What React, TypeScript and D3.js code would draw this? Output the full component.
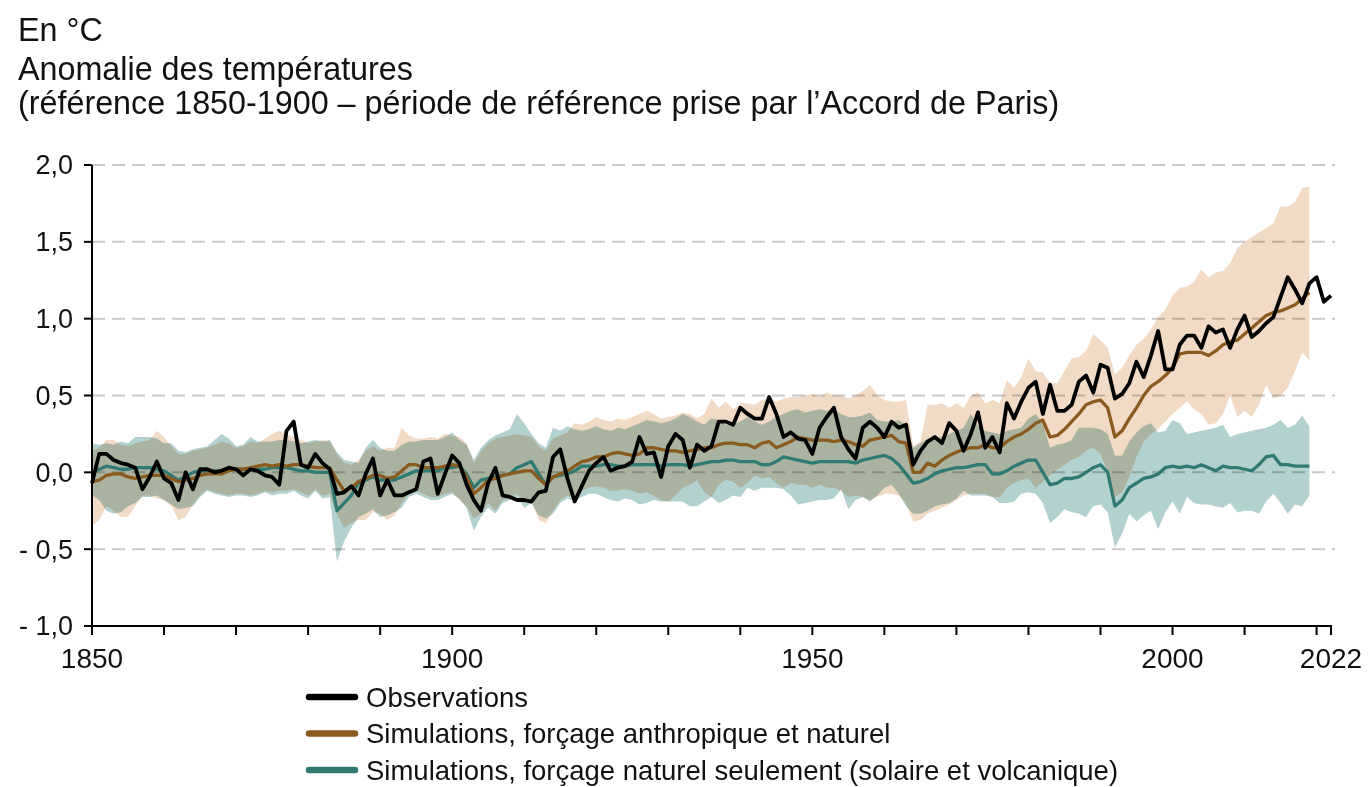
import React from "react";
import * as d3 from "d3";

const FONT = '"Liberation Sans", Arial, Helvetica, sans-serif';

const FIRST_YEAR = 1850;

// observed anomaly, 1850-2022 (°C vs 1850-1900)
const observations = [
  -0.07, 0.12, 0.12, 0.08, 0.06, 0.05, 0.03, -0.11, -0.03, 0.07,
  -0.04, -0.07, -0.18, 0.0, -0.11, 0.02, 0.02, 0.0, 0.01, 0.03,
  0.02, -0.02, 0.02, 0.01, -0.02, -0.03, -0.08, 0.27, 0.33, 0.05,
  0.03, 0.12, 0.06, 0.02, -0.14, -0.13, -0.09, -0.15, -0.01, 0.09,
  -0.15, -0.05, -0.15, -0.15, -0.13, -0.11, 0.07, 0.09, -0.14, -0.01,
  0.11, 0.06, -0.08, -0.18, -0.25, -0.07, 0.03, -0.15, -0.16, -0.18,
  -0.18, -0.19, -0.13, -0.12, 0.1, 0.15, -0.04, -0.19, -0.09, 0.01,
  0.06, 0.1, 0.01, 0.03, 0.04, 0.07, 0.23, 0.12, 0.13, -0.03,
  0.17, 0.25, 0.21, 0.03, 0.18, 0.14, 0.17, 0.33, 0.33, 0.31,
  0.42, 0.38, 0.35, 0.35, 0.49, 0.38, 0.23, 0.26, 0.22, 0.21,
  0.12, 0.29, 0.36, 0.42, 0.23, 0.15, 0.09, 0.29, 0.33, 0.29,
  0.23, 0.33, 0.29, 0.31, 0.05, 0.14, 0.2, 0.23, 0.19, 0.32,
  0.27, 0.14, 0.25, 0.39, 0.16, 0.23, 0.13, 0.45, 0.35, 0.46,
  0.55, 0.59, 0.38, 0.57, 0.4, 0.4, 0.44, 0.59, 0.63, 0.52,
  0.7, 0.68, 0.48, 0.51, 0.58, 0.72, 0.62, 0.76, 0.92, 0.67,
  0.67, 0.83, 0.89, 0.89, 0.81, 0.95, 0.91, 0.93, 0.81, 0.93,
  1.02, 0.88, 0.92, 0.97, 1.01, 1.14, 1.27, 1.19, 1.1, 1.23,
  1.27, 1.11, 1.15,
];

// simulations, human + natural forcing, 1850-2019
const anthroMean = [
  -0.06, -0.05, -0.02, -0.01, -0.01, -0.03, -0.04, -0.03, -0.02, -0.02,
  -0.02, -0.04, -0.06, -0.05, -0.04, -0.02, -0.01, -0.01, -0.01, 0.01,
  0.02, 0.02, 0.03, 0.04, 0.05, 0.04, 0.05, 0.04, 0.05, 0.05,
  0.04, 0.03, 0.03, 0.03, -0.05, -0.12, -0.1, -0.06, -0.04, -0.02,
  -0.02, -0.04, -0.03, 0.01, 0.05, 0.05, 0.03, 0.03, 0.03, 0.04,
  0.05, 0.04, -0.03, -0.14, -0.1, -0.05, -0.04, -0.02, -0.01, 0.0,
  0.01, 0.01, -0.04, -0.08, -0.03, -0.01, 0.01, 0.04, 0.07, 0.08,
  0.1, 0.1, 0.12, 0.13, 0.12, 0.11, 0.12, 0.16, 0.16, 0.15,
  0.14, 0.14, 0.13, 0.14, 0.15, 0.16, 0.16, 0.18, 0.19, 0.19,
  0.18, 0.18, 0.16, 0.19, 0.2, 0.16, 0.18, 0.2, 0.23, 0.22,
  0.21, 0.21, 0.21, 0.2, 0.21, 0.2, 0.18, 0.17, 0.21, 0.22,
  0.23, 0.24, 0.2, 0.19, 0.0, 0.0, 0.06, 0.04, 0.08, 0.11,
  0.13, 0.15, 0.16, 0.16, 0.18, 0.16, 0.16, 0.2, 0.23, 0.25,
  0.28, 0.32, 0.34, 0.23, 0.24, 0.28, 0.33, 0.38, 0.44, 0.46,
  0.47, 0.42, 0.23, 0.27, 0.35, 0.42, 0.5, 0.56, 0.59, 0.63,
  0.68, 0.77, 0.78, 0.78, 0.78, 0.76, 0.79, 0.83, 0.85, 0.86,
  0.9, 0.94, 0.98, 1.02, 1.04, 1.05, 1.07, 1.09, 1.13, 1.17,
];

const anthroHigh = [
  0.14, 0.16, 0.21, 0.21, 0.18, 0.17, 0.19, 0.2, 0.21, 0.27,
  0.23, 0.17, 0.12, 0.12, 0.14, 0.15, 0.16, 0.18, 0.2, 0.19,
  0.16, 0.17, 0.2, 0.19, 0.22, 0.25, 0.27, 0.25, 0.23, 0.21,
  0.19, 0.2, 0.21, 0.2, 0.12, 0.06, 0.05, 0.08, 0.14, 0.17,
  0.14, 0.16, 0.16, 0.29, 0.24, 0.22, 0.22, 0.23, 0.22, 0.25,
  0.24, 0.23, 0.19, 0.06, 0.14, 0.19, 0.22, 0.23, 0.24, 0.25,
  0.24, 0.23, 0.17, 0.14, 0.22, 0.24, 0.26, 0.32, 0.31, 0.33,
  0.36, 0.34, 0.33, 0.35, 0.34, 0.36, 0.38, 0.4, 0.38, 0.35,
  0.36, 0.37, 0.39, 0.38, 0.35, 0.38, 0.48, 0.42, 0.46, 0.41,
  0.45, 0.45, 0.44, 0.47, 0.48, 0.46, 0.48, 0.49, 0.49, 0.5,
  0.51, 0.49, 0.52, 0.5, 0.5, 0.48, 0.5, 0.53, 0.57, 0.5,
  0.47, 0.46, 0.46, 0.47, 0.17, 0.2, 0.44, 0.44, 0.45, 0.42,
  0.45, 0.42, 0.5, 0.52, 0.45, 0.47, 0.45, 0.6, 0.55, 0.62,
  0.74, 0.66, 0.65, 0.58, 0.58, 0.66, 0.74, 0.75, 0.79, 0.9,
  0.86, 0.81, 0.64, 0.68, 0.76, 0.83, 0.87, 0.93, 1.01, 1.06,
  1.15, 1.2, 1.21, 1.24, 1.32, 1.27, 1.3, 1.31, 1.36, 1.46,
  1.5, 1.53, 1.56, 1.59, 1.62, 1.73, 1.73, 1.76, 1.85, 1.86,
];

const anthroLow = [
  -0.35, -0.31, -0.22, -0.25, -0.29, -0.29, -0.22, -0.15, -0.15, -0.17,
  -0.18, -0.22, -0.31, -0.29, -0.21, -0.15, -0.11, -0.13, -0.14, -0.15,
  -0.14, -0.14, -0.15, -0.14, -0.12, -0.13, -0.12, -0.12, -0.11, -0.13,
  -0.15, -0.11, -0.15, -0.14, -0.27, -0.36, -0.33, -0.31, -0.31, -0.26,
  -0.27, -0.31, -0.28, -0.2, -0.14, -0.12, -0.14, -0.16, -0.16, -0.14,
  -0.13, -0.18, -0.22, -0.3, -0.27, -0.2, -0.25, -0.18, -0.17, -0.14,
  -0.2, -0.18, -0.31, -0.33, -0.25, -0.18, -0.15, -0.16, -0.12, -0.1,
  -0.09, -0.1, -0.12, -0.12, -0.11, -0.12, -0.14, -0.13, -0.15, -0.18,
  -0.19, -0.15, -0.1, -0.08, -0.05, -0.13, -0.16, -0.08, -0.05, -0.06,
  -0.1, -0.07, -0.02, -0.04, -0.03, -0.07, -0.1, -0.07, -0.08, -0.08,
  -0.1, -0.08, -0.1, -0.1, -0.12, -0.16, -0.15, -0.16, -0.18, -0.16,
  -0.14, -0.14, -0.15, -0.2, -0.32, -0.31, -0.27, -0.25, -0.23, -0.21,
  -0.18, -0.15, -0.14, -0.14, -0.14, -0.16, -0.16, -0.1, -0.07, -0.05,
  -0.04, -0.1, -0.06, -0.02, 0.02, 0.05, 0.08, 0.1, 0.14, 0.16,
  0.12, 0.0, -0.16, -0.13, -0.03, 0.1, 0.2, 0.25, 0.28, 0.33,
  0.38, 0.42, 0.46, 0.41, 0.38, 0.31, 0.32, 0.38, 0.5, 0.36,
  0.4, 0.36, 0.44, 0.57, 0.48, 0.5, 0.55, 0.66, 0.78, 0.73,
];

// simulations, natural forcing only, 1850-2019
const naturalMean = [
  0.0, 0.02, 0.04, 0.03, 0.02, 0.02, 0.03, 0.03, 0.03, 0.02,
  0.01, -0.02, -0.05, -0.03, 0.0, 0.01, 0.01, 0.01, 0.01, 0.02,
  0.02, 0.02, 0.02, 0.02, 0.02, 0.03, 0.03, 0.03, 0.02, 0.01,
  0.01, 0.0, 0.0, 0.0, -0.25, -0.2, -0.15, -0.07, -0.05, -0.03,
  -0.05, -0.05, -0.05, -0.03, -0.01, 0.01, 0.01, 0.01, 0.01, 0.03,
  0.03, 0.04, -0.01, -0.1, -0.05, -0.04, -0.03, -0.02, -0.01, 0.03,
  0.05, 0.07, -0.01, -0.08, -0.03, -0.02, -0.01, 0.01, 0.04, 0.04,
  0.04, 0.05, 0.05, 0.04, 0.04, 0.05, 0.05, 0.05, 0.05, 0.04,
  0.05, 0.05, 0.05, 0.04, 0.05, 0.06, 0.07, 0.07, 0.08, 0.08,
  0.07, 0.07, 0.07, 0.05, 0.05, 0.07, 0.1, 0.09, 0.08, 0.07,
  0.06, 0.07, 0.07, 0.07, 0.07, 0.07, 0.06, 0.08, 0.09, 0.1,
  0.11, 0.09, 0.05, -0.01, -0.07, -0.06, -0.04, -0.01, 0.01, 0.02,
  0.03, 0.03, 0.04, 0.05, 0.05, -0.01, -0.01, 0.01, 0.04, 0.06,
  0.08, 0.08, 0.0, -0.08, -0.07, -0.04, -0.04, -0.03, 0.0, 0.03,
  0.05, 0.0, -0.22, -0.18, -0.1, -0.07, -0.04, -0.03, -0.01, 0.03,
  0.04, 0.03, 0.04, 0.03, 0.05, 0.03, 0.01, 0.04, 0.03, 0.03,
  0.02, 0.01, 0.05, 0.1, 0.11, 0.05, 0.05, 0.04, 0.04, 0.04,
];

const naturalHigh = [
  0.19, 0.18, 0.19, 0.18, 0.2, 0.19, 0.23, 0.23, 0.23, 0.22,
  0.19, 0.19, 0.14, 0.13, 0.15, 0.16, 0.17, 0.21, 0.25, 0.22,
  0.17, 0.18, 0.23, 0.2, 0.2, 0.2, 0.21, 0.21, 0.2, 0.19,
  0.2, 0.21, 0.2, 0.21, 0.13, 0.08, 0.07, 0.06, 0.16, 0.21,
  0.16, 0.14, 0.14, 0.18, 0.2, 0.2, 0.21, 0.21, 0.21, 0.23,
  0.26, 0.21, 0.18, 0.08, 0.16, 0.21, 0.24, 0.26, 0.28, 0.38,
  0.32, 0.25, 0.19, 0.16, 0.29, 0.27, 0.3, 0.28, 0.27, 0.28,
  0.3, 0.28, 0.27, 0.29, 0.28, 0.3, 0.32, 0.34, 0.33, 0.32,
  0.33, 0.35, 0.38, 0.36, 0.33, 0.31, 0.35, 0.34, 0.31, 0.32,
  0.33, 0.36, 0.33, 0.31, 0.33, 0.36, 0.38, 0.4, 0.41, 0.39,
  0.4, 0.41, 0.4, 0.41, 0.38, 0.36, 0.36, 0.37, 0.39, 0.34,
  0.33, 0.33, 0.34, 0.31, 0.16, 0.19, 0.22, 0.22, 0.23, 0.25,
  0.27, 0.29, 0.38, 0.3, 0.27, 0.26, 0.25, 0.27, 0.28, 0.29,
  0.35, 0.38, 0.32, 0.16, 0.18, 0.19, 0.21, 0.29, 0.29, 0.29,
  0.28, 0.25, 0.11, 0.11, 0.2, 0.26, 0.3, 0.32, 0.26, 0.27,
  0.34, 0.32, 0.25, 0.26, 0.27, 0.28, 0.29, 0.31, 0.23, 0.25,
  0.26, 0.27, 0.28, 0.29, 0.31, 0.34, 0.29, 0.31, 0.37, 0.3,
];

const naturalLow = [
  -0.15, -0.18, -0.25, -0.27, -0.26, -0.22, -0.2, -0.16, -0.16, -0.15,
  -0.18, -0.21, -0.24, -0.23, -0.22, -0.16, -0.12, -0.14, -0.15, -0.16,
  -0.15, -0.15, -0.16, -0.15, -0.13, -0.15, -0.14, -0.14, -0.12, -0.15,
  -0.17, -0.12, -0.17, -0.16, -0.58, -0.45, -0.36, -0.29, -0.27, -0.24,
  -0.29, -0.28, -0.26, -0.23, -0.16, -0.14, -0.16, -0.18, -0.18, -0.16,
  -0.14, -0.17, -0.23, -0.38, -0.29, -0.23, -0.27, -0.2, -0.18, -0.16,
  -0.23, -0.2, -0.28, -0.3, -0.27, -0.2, -0.17, -0.19, -0.16, -0.14,
  -0.14, -0.16, -0.18, -0.19, -0.17, -0.18, -0.21, -0.2, -0.18, -0.19,
  -0.19, -0.19, -0.19, -0.22, -0.22, -0.19, -0.16, -0.2, -0.18, -0.15,
  -0.16, -0.1, -0.12, -0.1, -0.1, -0.1, -0.11, -0.15, -0.21, -0.2,
  -0.19, -0.18, -0.18, -0.17, -0.11, -0.24, -0.18, -0.16, -0.19, -0.15,
  -0.1, -0.08, -0.14, -0.22, -0.27, -0.27, -0.25, -0.22, -0.21, -0.2,
  -0.17, -0.12, -0.15, -0.15, -0.15, -0.16, -0.2, -0.2, -0.19, -0.14,
  -0.13, -0.14, -0.2, -0.33, -0.29, -0.24, -0.26, -0.27, -0.29, -0.22,
  -0.21, -0.26, -0.49, -0.4, -0.27, -0.32, -0.28, -0.25, -0.37, -0.26,
  -0.19, -0.27, -0.16, -0.2, -0.21, -0.21, -0.22, -0.23, -0.2, -0.26,
  -0.25, -0.25, -0.27, -0.19, -0.14, -0.2, -0.27, -0.21, -0.22, -0.15,
];

const yTicks = [-1, -0.5, 0, 0.5, 1, 1.5, 2];
const xTicks = [1850, 1860, 1870, 1880, 1890, 1900, 1910, 1920, 1930, 1940, 1950, 1960, 1970, 1980, 1990, 2000, 2010, 2020, 2022];
const xLabels = [1850, 1900, 1950, 2000, 2022];

const titleLines = [
  "En °C",
  "Anomalie des températures",
  "(référence 1850-1900 – période de référence prise par l’Accord de Paris)",
];

const legendItems = [
  { label: "Observations", color: "#000000" },
  { label: "Simulations, forçage anthropique et naturel", color: "#8a5a1e" },
  { label: "Simulations, forçage naturel seulement (solaire et volcanique)", color: "#2f7a72" },
];

const WIDTH = 1370;
const HEIGHT = 787;

const x = d3.scaleLinear().domain([1850, 2022]).range([92, 1331]);
const y = d3.scaleLinear().domain([-1, 2]).range([626, 165]);

const withYears = (vals: number[]) => vals.map((v, i) => ({ year: FIRST_YEAR + i, v }));
const bandOf = (lo: number[], hi: number[]) =>
  lo.map((l, i) => ({ year: FIRST_YEAR + i, lo: l, hi: hi[i] }));

const fmt = (v: number) => {
  const s = Math.abs(v).toFixed(1).replace(".", ",");
  return v < 0 ? "- " + s : s;
};

const App = () => {
  const line = d3
    .line<{ year: number; v: number }>()
    .x((d) => x(d.year))
    .y((d) => y(d.v));
  const area = d3
    .area<{ year: number; lo: number; hi: number }>()
    .x((d) => x(d.year))
    .y0((d) => y(d.lo))
    .y1((d) => y(d.hi));

  const x0 = x(1850);
  const x1 = x(2022) + 4;

  return (
    <div style={{ position: "absolute", left: 0, top: 0 }}>
      <svg width={WIDTH} height={HEIGHT} style={{ display: "block", background: "#fff" }} fontFamily={FONT}>
        {/* titles */}
        <g fill="#111" fontSize={32.3}>
          <text x={18} y={41}>{titleLines[0]}</text>
          <text x={18} y={80}>{titleLines[1]}</text>
          <text x={18} y={114}>{titleLines[2]}</text>
        </g>

        {/* grid */}
        {yTicks
          .filter((t) => t > -1)
          .map((t) => (
            <line
              key={"g" + t}
              x1={x0}
              x2={x1}
              y1={y(t)}
              y2={y(t)}
              stroke="#c9c9c9"
              strokeWidth={2}
              strokeDasharray="13,7"
            />
          ))}

        {/* ranges */}
        <path d={area(bandOf(anthroLow, anthroHigh)) || ""} fill="#f2dbc6" style={{ mixBlendMode: "multiply" }} />
        <path d={area(bandOf(naturalLow, naturalHigh)) || ""} fill="#b3d1ce" style={{ mixBlendMode: "multiply" }} />

        {/* series */}
        <path d={line(withYears(naturalMean)) || ""} fill="none" stroke={legendItems[2].color} strokeWidth={3.3} strokeLinejoin="round" />
        <path d={line(withYears(anthroMean)) || ""} fill="none" stroke={legendItems[1].color} strokeWidth={3.3} strokeLinejoin="round" />
        <path d={line(withYears(observations)) || ""} fill="none" stroke="#000" strokeWidth={3.8} strokeLinejoin="round" />

        {/* y axis */}
        <line x1={x0} x2={x0} y1={y(2)} y2={y(-1)} stroke="#000" strokeWidth={2} />
        {yTicks.map((t) => (
          <g key={"y" + t}>
            <line x1={x0 - 8} x2={x0} y1={y(t)} y2={y(t)} stroke="#000" strokeWidth={2} />
            <text x={73} y={y(t)} dy="0.35em" textAnchor="end" fontSize={27} fill="#111">
              {fmt(t)}
            </text>
          </g>
        ))}

        {/* x axis */}
        <line x1={x0} x2={x(2022) + 1} y1={y(-1)} y2={y(-1)} stroke="#000" strokeWidth={2} />
        {xTicks.map((t) => (
          <line key={"x" + t} x1={x(t)} x2={x(t)} y1={y(-1)} y2={y(-1) + 9} stroke="#000" strokeWidth={2} />
        ))}
        {xLabels.map((t) => (
          <text key={"xl" + t} x={x(t)} y={668} textAnchor="middle" fontSize={28} fill="#111">
            {t}
          </text>
        ))}

        {/* legend */}
        {legendItems.map((item, i) => (
          <g key={item.label} transform={`translate(0, ${697 + i * 36.5})`}>
            <line x1={309} x2={355} y1={0} y2={0} stroke={item.color} strokeWidth={6.5} strokeLinecap="round" />
            <text x={366} y={0} dy="0.35em" fontSize={27.5} fill="#111">
              {item.label}
            </text>
          </g>
        ))}
      </svg>
    </div>
  );
};

export default App;
